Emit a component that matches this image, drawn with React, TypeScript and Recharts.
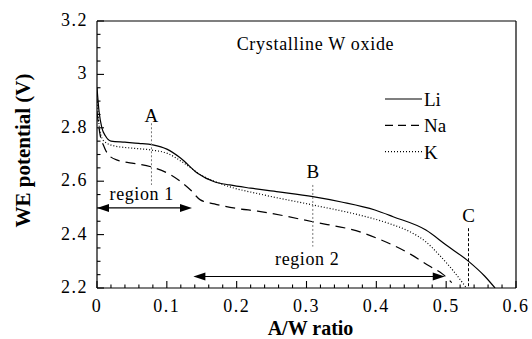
import React from 'react';
import { LineChart, Line, XAxis, YAxis, ReferenceLine, ReferenceDot, Legend } from 'recharts';

// ---- data ----
const liX = [0, 0.003, 0.007, 0.012, 0.02, 0.04, 0.06, 0.08, 0.1, 0.12, 0.144, 0.168, 0.19, 0.22, 0.26, 0.309, 0.35, 0.398, 0.424, 0.471, 0.5, 0.533, 0.555, 0.57];
const liY = [2.95, 2.86, 2.8, 2.77, 2.75, 2.746, 2.742, 2.736, 2.72, 2.686, 2.63, 2.598, 2.586, 2.574, 2.56, 2.542, 2.522, 2.492, 2.467, 2.417, 2.361, 2.298, 2.245, 2.2];

const naX = [0, 0.004, 0.01, 0.016, 0.03, 0.05, 0.077, 0.106, 0.134, 0.148, 0.168, 0.2, 0.23, 0.309, 0.38, 0.405, 0.45, 0.476, 0.495, 0.508];
const naY = [2.86, 2.78, 2.73, 2.7, 2.678, 2.668, 2.654, 2.623, 2.567, 2.53, 2.515, 2.498, 2.488, 2.448, 2.407, 2.382, 2.325, 2.282, 2.252, 2.22];

const kX = [0, 0.004, 0.01, 0.025, 0.05, 0.077, 0.101, 0.125, 0.149, 0.182, 0.24, 0.309, 0.376, 0.42, 0.448, 0.47, 0.49, 0.51, 0.529];
const kY = [2.92, 2.79, 2.75, 2.732, 2.724, 2.717, 2.704, 2.667, 2.623, 2.586, 2.548, 2.511, 2.473, 2.44, 2.411, 2.375, 2.324, 2.265, 2.2];

const xTicks = [0, 0.02, 0.04, 0.06, 0.08, 0.1, 0.12, 0.14, 0.16, 0.18, 0.2, 0.22, 0.24, 0.26, 0.28, 0.3, 0.32, 0.34, 0.36, 0.38, 0.4, 0.42, 0.44, 0.46, 0.48, 0.5, 0.52, 0.54, 0.56, 0.58, 0.6];
const xMajorTicks = [0, 0.1, 0.2, 0.3, 0.4, 0.5, 0.6];
const xTickLabels = ['0', '0.1', '0.2', '0.3', '0.4', '0.5', '0.6'];
const yTicks = [2.2, 2.25, 2.3, 2.35, 2.4, 2.45, 2.5, 2.55, 2.6, 2.65, 2.7, 2.75, 2.8, 2.85, 2.9, 2.95, 3, 3.05, 3.1, 3.15, 3.2];
const yMajorTicks = [2.2, 2.4, 2.6, 2.8, 3, 3.2];
const yTickLabels = ['2.2', '2.4', '2.6', '2.8', '3', '3.2'];

const seriesNames = ['Li', 'Na', 'K'];

const markerLabels = ['A', 'B', 'C'];
const markerX = [0.078, 0.309, 0.532];
const markerTop = [2.817, 2.586, 2.424];
const markerBottom = [2.586, 2.355, 2.2];
const markerLabelY = [2.823, 2.611, 2.448];

const regionLabels = ['region 1', 'region 2'];
const regionStart = [0, 0.138];
const regionEnd = [0.136, 0.498];
const regionArrowY = [2.5, 2.243];
const regionLabelX = [0.064, 0.301];
const regionLabelY = [2.53, 2.286];

const chartTitle = 'Crystalline W oxide';
const titleX = 0.2;
const titleY = 3.09;

// ---- helpers ----
const FONT = 'Liberation Serif, Times New Roman, serif';
const toPts = (xs: number[], ys: number[]) => xs.map((x, i) => ({ x, y: ys[i] }));
const liData = toPts(liX, liY);
const naData = toPts(naX, naY);
const kData = toPts(kX, kY);

const seriesStyle = [
  { data: liData, dash: undefined as string | undefined },
  { data: naData, dash: '10 6' },
  { data: kData, dash: '1 2' },
];

const majorIndex = (v: number, majors: number[]) => majors.findIndex((m) => Math.abs(m - v) < 1e-6);

const BottomTick = (props: any) => {
  const { x, y, payload } = props;
  const idx = majorIndex(payload.value, xMajorTicks);
  const major = idx >= 0;
  return (
    <g>
      <line x1={x} x2={x} y1={y} y2={y - (major ? 7 : 3.5)} stroke="#000" strokeWidth={1.1} />
      {major && (
        <text x={x} y={y + 24} textAnchor="middle" style={{ fontFamily: FONT }} fontSize={18} letterSpacing={1.5} fill="#000">
          {xTickLabels[idx]}
        </text>
      )}
    </g>
  );
};

const TopTick = (props: any) => {
  const { x, y, payload } = props;
  const major = majorIndex(payload.value, xMajorTicks) >= 0;
  return <line x1={x} x2={x} y1={y} y2={y + (major ? 7 : 3.5)} stroke="#000" strokeWidth={1.1} />;
};

const LeftTick = (props: any) => {
  const { x, y, payload } = props;
  const idx = majorIndex(payload.value, yMajorTicks);
  const major = idx >= 0;
  return (
    <g>
      <line x1={x} x2={x + (major ? 7 : 3.5)} y1={y} y2={y} stroke="#000" strokeWidth={1.1} />
      {major && (
        <text x={x - 9} y={y + 5} textAnchor="end" style={{ fontFamily: FONT }} fontSize={18} letterSpacing={1.5} fill="#000">
          {yTickLabels[idx]}
        </text>
      )}
    </g>
  );
};

const RightTick = (props: any) => {
  const { x, y, payload } = props;
  const major = majorIndex(payload.value, yMajorTicks) >= 0;
  return <line x1={x} x2={x - (major ? 7 : 3.5)} y1={y} y2={y} stroke="#000" strokeWidth={1.1} />;
};

const textShape = (text: string, size: number, anchor: string, spacing = 0) => (p: any) => (
  <text x={p.cx} y={p.cy} textAnchor={anchor} style={{ fontFamily: FONT }} fontSize={size} letterSpacing={spacing} fill="#000">
    {text}
  </text>
);

const doubleArrow = (p: any) => {
  const x1 = Math.min(p.x1, p.x2);
  const x2 = Math.max(p.x1, p.x2);
  const y = p.y1;
  const L = 12;
  const W = 4;
  return (
    <g>
      <line x1={x1 + L - 1} y1={y} x2={x2 - L + 1} y2={y} stroke="#000" strokeWidth={1.2} />
      <polygon points={`${x1},${y} ${x1 + L},${y - W} ${x1 + L},${y + W}`} fill="#000" />
      <polygon points={`${x2},${y} ${x2 - L},${y - W} ${x2 - L},${y + W}`} fill="#000" />
    </g>
  );
};

const LegendContent = () => (
  <svg width={80} height={80} style={{ display: 'block', overflow: 'visible' }}>
    {seriesNames.map((name, i) => (
      <g key={name}>
        <line
          x1={0}
          x2={37}
          y1={11 + i * 26.3}
          y2={11 + i * 26.3}
          stroke="#000"
          strokeWidth={1.2}
          strokeDasharray={i === 1 ? '8 5' : seriesStyle[i].dash}
        />
        <text x={39} y={17.5 + i * 26.5} style={{ fontFamily: FONT }} fontSize={19} fill="#000">
          {name}
        </text>
      </g>
    ))}
  </svg>
);

export default function App() {
  return (
    <div style={{ position: 'absolute', left: 0, top: 0, width: 532, height: 339, background: '#fff' }}>
      <LineChart width={532} height={339} margin={{ top: 0, right: 0, bottom: 0, left: 0 }}>
        <XAxis
          xAxisId="bottom"
          type="number"
          dataKey="x"
          domain={[0, 0.6]}
          ticks={xTicks}
          interval={0}
          orientation="bottom"
          height={51}
          tickLine={false}
          tickSize={0}
          tickMargin={0}
          tick={<BottomTick />}
          axisLine={{ stroke: '#000', strokeWidth: 1.2 }}
          allowDataOverflow
          label={{
            content: (p: any) => {
              const vb = p.viewBox || { x: 97, y: 288, width: 419, height: 51 };
              return (
                <text x={vb.x + vb.width / 2 + 4} y={vb.y + 47} textAnchor="middle" style={{ fontFamily: FONT }} fontSize={20} fontWeight="bold" fill="#000">
                  A/W ratio
                </text>
              );
            },
          }}
        />
        <XAxis
          xAxisId="top"
          type="number"
          dataKey="x"
          domain={[0, 0.6]}
          ticks={xTicks}
          interval={0}
          orientation="top"
          height={21}
          tickLine={false}
          tickSize={0}
          tickMargin={0}
          tick={<TopTick />}
          axisLine={{ stroke: '#000', strokeWidth: 1.2 }}
        />
        <YAxis
          yAxisId="left"
          type="number"
          domain={[2.2, 3.2]}
          ticks={yTicks}
          interval={0}
          orientation="left"
          width={97}
          tickLine={false}
          tickSize={0}
          tickMargin={0}
          tick={<LeftTick />}
          axisLine={{ stroke: '#000', strokeWidth: 1.2 }}
          allowDataOverflow
          label={{
            content: (p: any) => {
              const vb = p.viewBox || { x: 0, y: 21, width: 97, height: 267 };
              const cx = vb.x + 30;
              const cy = vb.y + vb.height / 2 - 4;
              return (
                <text x={cx} y={cy} transform={`rotate(-90 ${cx} ${cy})`} textAnchor="middle" style={{ fontFamily: FONT }} fontSize={21} fontWeight="bold" fill="#000">
                  WE potential (V)
                </text>
              );
            },
          }}
        />
        <YAxis
          yAxisId="right"
          type="number"
          domain={[2.2, 3.2]}
          ticks={yTicks}
          interval={0}
          orientation="right"
          width={16}
          tickLine={false}
          tickSize={0}
          tickMargin={0}
          tick={<RightTick />}
          axisLine={{ stroke: '#000', strokeWidth: 1.2 }}
        />

        {seriesNames.map((name, i) => (
          <Line
            key={name}
            name={name}
            xAxisId="bottom"
            yAxisId="left"
            data={seriesStyle[i].data}
            dataKey="y"
            type="monotone"
            stroke="#000"
            strokeWidth={1.2}
            strokeDasharray={seriesStyle[i].dash}
            dot={false}
            activeDot={false}
            isAnimationActive={false}
          />
        ))}

        {markerLabels.map((lab, i) => (
          <ReferenceLine
            key={'ml' + lab}
            xAxisId="bottom"
            yAxisId="left"
            segment={[
              { x: markerX[i], y: markerTop[i] },
              { x: markerX[i], y: markerBottom[i] },
            ]}
            stroke={i === 2 ? '#000' : '#777'}
            strokeWidth={1}
            strokeDasharray={i === 2 ? '3 2' : '2 2'}
          />
        ))}
        {markerLabels.map((lab, i) => (
          <ReferenceDot
            key={'mt' + lab}
            xAxisId="bottom"
            yAxisId="left"
            x={markerX[i]}
            y={markerLabelY[i]}
            r={0}
            shape={textShape(lab, 19, 'middle')}
          />
        ))}

        {regionLabels.map((lab, i) => (
          <ReferenceLine
            key={'ra' + lab}
            xAxisId="bottom"
            yAxisId="left"
            segment={[
              { x: regionStart[i], y: regionArrowY[i] },
              { x: regionEnd[i], y: regionArrowY[i] },
            ]}
            shape={doubleArrow}
          />
        ))}
        {regionLabels.map((lab, i) => (
          <ReferenceDot
            key={'rt' + lab}
            xAxisId="bottom"
            yAxisId="left"
            x={regionLabelX[i]}
            y={regionLabelY[i]}
            r={0}
            shape={textShape(lab, 18, 'middle', 0.6)}
          />
        ))}

        <ReferenceDot
          xAxisId="bottom"
          yAxisId="left"
          x={titleX}
          y={titleY}
          r={0}
          shape={textShape(chartTitle, 18, 'start', 0.7)}
        />

        <Legend
          layout="vertical"
          align="center"
          verticalAlign="middle"
          content={<LegendContent />}
          wrapperStyle={{ position: 'absolute', left: 385, top: 88, width: 80, height: 80 }}
        />
      </LineChart>
    </div>
  );
}
